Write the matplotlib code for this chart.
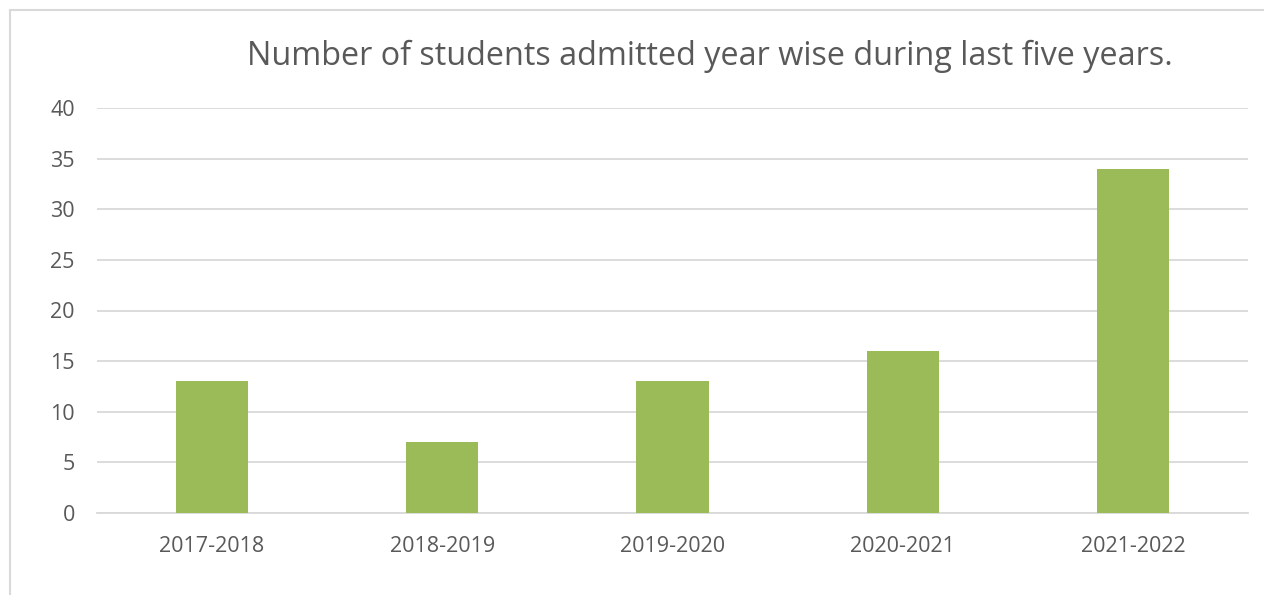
import matplotlib.pyplot as plt
from matplotlib.patches import Rectangle

# data
years = ["2017-2018", "2018-2019", "2019-2020", "2020-2021", "2021-2022"]
students = [13, 7, 13, 16, 34]
y_ticks = [0, 5, 10, 15, 20, 25, 30, 35, 40]

plt.rcParams["font.family"] = ["Open Sans", "DejaVu Sans"]

fig = plt.figure(figsize=(12.64, 5.95), dpi=100)
ax = fig.add_axes([97 / 1264, 1 - 513 / 595, 1151 / 1264, 405 / 595])

# outer chart border (like an Excel chart frame)
fig.patches.append(Rectangle((10 / 1264, -0.1), 1.2, 1 - 10 / 595 + 0.1,
                             transform=fig.transFigure, fill=False,
                             edgecolor="#D9D9D9", linewidth=1.5))

x = range(len(years))
ax.bar(x, students, width=0.313, color="#9BBB59", zorder=3)

ax.set_xlim(-0.5, len(years) - 0.5)
ax.set_ylim(0, 40)
ax.set_yticks(y_ticks)
ax.set_xticks(list(x))
ax.set_xticklabels(years)
ax.grid(axis="y", color="#D9D9D9", linewidth=1.3, zorder=0)
for s in ["top", "right", "left"]:
    ax.spines[s].set_visible(False)
ax.spines["bottom"].set_color("#D9D9D9")
ax.spines["bottom"].set_linewidth(1.3)
ax.tick_params(length=0, labelsize=15.5, colors="#595959")
ax.tick_params(axis="x", pad=16.5)
ax.tick_params(axis="y", pad=16)

fig.text(710 / 1264, 1 - 56 / 595, "Number of students admitted year wise during last five years.",
         ha="center", va="center", fontsize=23.3, color="#595959")

fig.savefig("out.png", dpi=100)
